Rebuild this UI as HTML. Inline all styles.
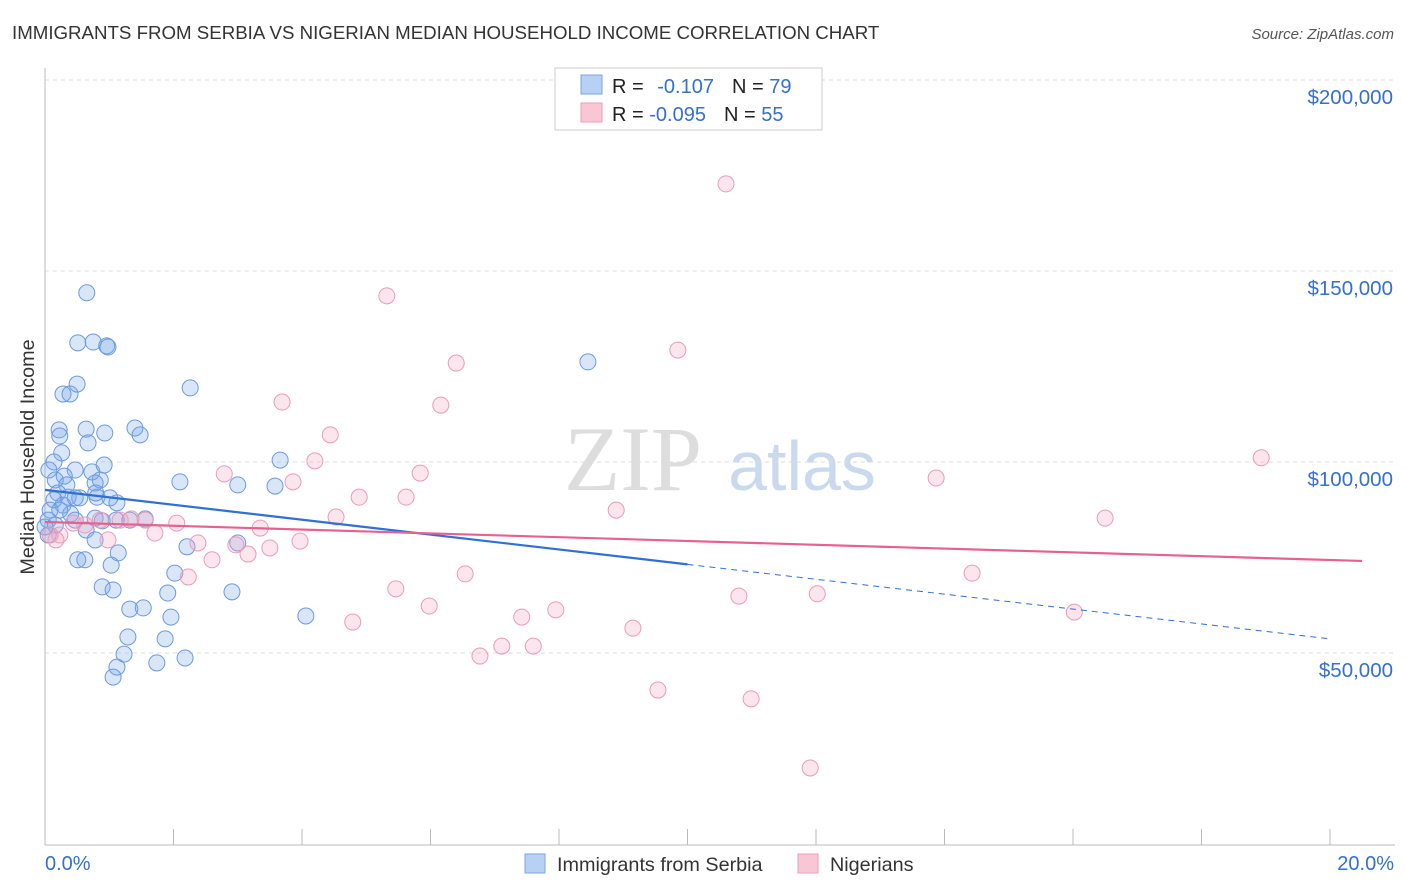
<!DOCTYPE html>
<html><head><meta charset="utf-8"><style>
body{margin:0;background:#fff;font-family:"Liberation Sans",sans-serif}
svg{display:block}
</style></head><body>
<svg id="c" width="1406" height="892">
<text x="12" y="39" font-size="18.7" fill="#333">IMMIGRANTS FROM SERBIA VS NIGERIAN MEDIAN HOUSEHOLD INCOME CORRELATION CHART</text>
<text x="1394" y="39" font-size="15" fill="#555" font-style="italic" text-anchor="end">Source: ZipAtlas.com</text>
<g>
<text x="633" y="490" font-size="92" fill="#ddd" font-family="Liberation Serif,serif" text-anchor="middle">ZIP</text>
<text x="802" y="490" font-size="70" fill="#c9d9ee" text-anchor="middle">atlas</text>
</g>
<g id="grid"></g>
<g id="axes"></g>
<g id="pts"></g>
<g id="trend"></g>
<g>
<rect x="555" y="68" width="267" height="62" fill="#fff" stroke="#ccc"/>
<rect x="581" y="75" width="21" height="19" fill="#b7d0f3" stroke="#7aa6e6"/>
<rect x="581" y="103" width="21" height="19" fill="#f9c6d5" stroke="#ee9db6"/>
<text x="612" y="93" font-size="20" fill="#222">R = <tspan fill="#3470d0" dx="8">-0.107</tspan><tspan dx="18" fill="#222">N = </tspan><tspan fill="#3470d0">79</tspan></text>
<text x="612" y="121" font-size="20" fill="#222">R = <tspan fill="#3470d0">-0.095</tspan><tspan dx="18" fill="#222">N = </tspan><tspan fill="#3470d0">55</tspan></text>
</g>
<g>
<rect x="525" y="854" width="20" height="19" fill="#b7d0f3" stroke="#7aa6e6"/>
<text x="557" y="871" font-size="19.8" fill="#333">Immigrants from Serbia</text>
<rect x="798" y="854" width="20" height="19" fill="#f9c6d5" stroke="#ee9db6"/>
<text x="830" y="871" font-size="19.8" fill="#333">Nigerians</text>
</g>
</svg>
<script>
const yTicks=[50,100,150,200];
const yTickLabels=["$50,000","$100,000","$150,000","$200,000"];
const xTickLabels=["0.0%","20.0%"];
const serbiaX=[.65,.51,.75,.96,.98,.28,.39,.50,2.26,8.45,.22,.23,.64,1.40,1.48,.93,.67,.26,.14,.47,.73,.92,.30,.16,.34,.86,.78,1.12,2.10,3.00,3.58,3.66,.20,.36,.54,.81,1.01,.14,.28,.08,.40,.78,.89,.05,.64,1.11,1.56,.78,1.14,1.03,.51,.62,3.00,2.21,2.02,2.91,.89,1.06,1.32,1.53,1.96,4.06,1.91,1.29,1.87,1.23,1.74,2.18,1.12,1.06,.05,.16,.79,.06,.47,.23,0,1.32,.47];
const serbiaY=[144.3,131.2,131.4,130.4,130.1,117.8,117.8,120.4,119.4,126.2,108.4,106.8,108.6,108.9,107.1,107.6,105.0,102.4,100.0,97.9,97.4,99.2,96.3,95.3,94.0,95.3,94.5,89.3,94.8,94.0,93.7,100.5,91.9,90.8,90.6,90.8,90.6,90.1,88.7,87.4,86.4,85.3,84.6,84.8,82.2,84.8,85.1,79.6,76.2,73.0,74.4,74.4,78.8,77.8,70.9,66.0,67.3,66.5,61.5,61.8,59.4,59.7,65.7,54.2,53.7,49.7,47.4,48.7,46.3,43.7,80.9,83.5,91.9,97.9,84.8,87.4,83.0,84.8,90.6];
const nigeriaX=[10.60,5.32,9.85,6.40,3.69,6.16,4.44,4.20,5.84,2.79,3.86,4.89,5.62,8.89,13.87,18.93,16.50,4.53,2.05,1.56,1.34,.86,.44,.23,.17,3.35,1.71,.98,2.38,2.97,3.50,3.97,3.16,2.60,2.23,6.54,14.43,5.46,5.98,7.42,7.95,10.80,12.02,16.02,4.79,9.15,7.11,7.60,6.77,9.54,10.99,11.91,.08,.62,1.17];
const nigeriaY=[172.8,143.5,129.3,125.9,115.7,114.9,107.1,100.3,97.1,96.9,94.8,90.8,90.8,87.4,95.8,101.1,85.3,85.6,84.0,84.8,85.1,84.8,84.0,80.9,79.6,82.7,81.4,79.6,78.8,78.3,77.5,79.3,75.9,74.4,69.9,70.7,70.9,66.8,62.3,59.4,61.3,64.9,65.5,60.7,58.1,56.5,51.8,51.8,49.2,40.3,38.0,19.9,80.9,83.5,84.8];
const serbiaTrend=[92.7,53.7];
const nigeriaTrend=[84.3,74.1];
const solidEnd=10;
const NS="http://www.w3.org/2000/svg";
const X=v=>45+v*64.25, Y=v=>844-v*3.82;
function mk(t,a,p){const e=document.createElementNS(NS,t);for(const k in a)e.setAttribute(k,a[k]);p.appendChild(e);return e;}
const grid=document.getElementById('grid'),axes=document.getElementById('axes'),pts=document.getElementById('pts'),tr=document.getElementById('trend');
yTicks.forEach((v,i)=>{
 const l=mk('line',{x1:45,x2:1395,y1:Y(v),y2:Y(v),stroke:'#ddd','stroke-dasharray':'4 4'},grid);
 
 
 const t=mk('text',{x:1393,y:Y(v)+24,'font-size':20.5,fill:'#3470d0','text-anchor':'end'},axes);
 t.textContent=yTickLabels[i];
 
 
});
const ya=mk('line',{x1:45,x2:45,y1:68,y2:845,stroke:'#bbb'},axes);


const xa=mk('line',{x1:45,x2:1395,y1:845,y2:845,stroke:'#bbb'},axes);


for(let i=0;i<=10;i++){const tk=mk('line',{x1:X(i*2),x2:X(i*2),y1:829,y2:845,stroke:'#bbb'},axes);
 
 }
const xl0=mk('text',{x:45,y:870,'font-size':20,fill:'#3470d0'},axes);xl0.textContent=xTickLabels[0];


const xl1=mk('text',{x:1394,y:870,'font-size':20,fill:'#3470d0','text-anchor':'end'},axes);xl1.textContent=xTickLabels[1];


const yt=mk('text',{x:0,y:0,'font-size':19.8,fill:'#333','text-anchor':'middle',transform:'translate(34,457) rotate(-90)'},axes);yt.textContent='Median Household Income';


serbiaX.forEach((x,i)=>{const c=mk('circle',{cx:X(x),cy:Y(serbiaY[i]),r:8,fill:'rgba(120,165,230,0.28)',stroke:'#6b9ae0','stroke-width':1},pts);
 
 });
nigeriaX.forEach((x,i)=>{const c=mk('circle',{cx:X(x),cy:Y(nigeriaY[i]),r:8,fill:'rgba(245,165,195,0.28)',stroke:'#ee9ab6','stroke-width':1},pts);
 
 });
const bm=serbiaTrend[0]+(serbiaTrend[1]-serbiaTrend[0])*solidEnd/20;
const b1=mk('line',{x1:X(0),y1:Y(serbiaTrend[0]),x2:X(solidEnd),y2:Y(bm),stroke:'#2f6fd6','stroke-width':2.2},tr);


const b2=mk('line',{x1:X(solidEnd),y1:Y(bm),x2:X(20),y2:Y(serbiaTrend[1]),stroke:'#2f6fd6','stroke-width':1,'stroke-dasharray':'6 5'},tr);


const p1=mk('line',{x1:X(0),y1:Y(nigeriaTrend[0]),x2:X(20.5),y2:Y(nigeriaTrend[1]),stroke:'#e8608c','stroke-width':2.2},tr);


</script>
</body></html>
